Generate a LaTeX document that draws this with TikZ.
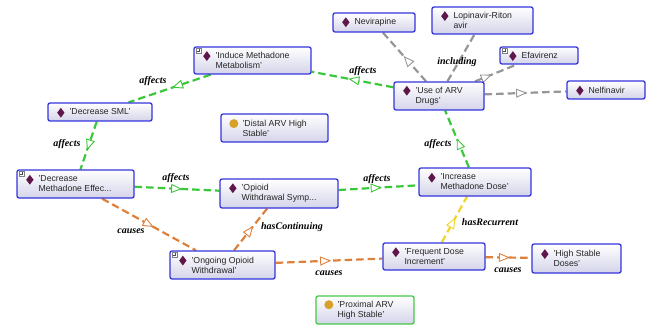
\documentclass[tikz,border=0pt]{standalone}
\usepackage{fontspec}
\setmainfont{Liberation Serif}
\setsansfont{Liberation Sans}
\usetikzlibrary{arrows.meta,decorations.markings,fit,calc,backgrounds,shapes.geometric}

\definecolor{boxblue}{RGB}{52,52,222}
\definecolor{boxfill}{RGB}{212,212,234}
\definecolor{boxgreen}{RGB}{70,200,70}
\definecolor{relgreen}{RGB}{58,200,58}
\definecolor{relgrey}{RGB}{150,150,150}
\definecolor{relorange}{RGB}{222,128,58}
\definecolor{relyellow}{RGB}{240,212,40}
\definecolor{diapurple}{RGB}{95,22,75}
\definecolor{dotgold}{RGB}{215,160,40}

\tikzset{
  obox/.style={draw=boxblue, line width=1.3pt, rounded corners=2pt,
    top color=white, bottom color=boxfill, inner sep=0pt},
  otext/.style={font=\sffamily\fontsize{8.7}{10}\selectfont, align=left,
    inner sep=0pt, text=black!85},
  dia/.style={diamond, fill=diapurple, minimum width=7.5pt, minimum height=10pt, inner sep=0pt},
  dot/.style={circle, fill=dotgold, minimum size=9pt, inner sep=0pt},
  rel/.style={line width=2.2pt, dash pattern=on 7.5pt off 4pt},
  tri/.style={postaction={decorate, decoration={markings,
    mark=at position #1 with {\arrow{Triangle[fill=white, length=11pt, width=9pt, line width=0.9pt]}}}}},
  lab/.style={font=\rmfamily\bfseries\itshape\fontsize{10}{12}\selectfont, inner sep=1pt},
}

% \entity{name}{x1}{y1}{x2}{y2}{icon style}{box options}{text}
\newcommand\entity[8]{%
  \node[obox,#7,fit={(#2,#3) (#4,#5)}] (#1) {};
  \node[otext,anchor=west] (#1-t) at ($(#1.west)+(22,0)$) {#8};
  \node[#6] (#1-i) at ($(#1-t.north west)+(-8.5,4)$) {};
}
% small expand marker in the upper left corner of a box
\newcommand\plusicon[1]{%
  \draw[gray, line width=0.4pt, fill=white] ($(#1.north west)+(3,2)$) rectangle +(5,5);
  \draw[black!70, line width=0.5pt] ($(#1.north west)+(4,4.5)$) -- +(3,0)
        ($(#1.north west)+(5.5,3)$) -- +(0,3);
}

\begin{document}
\begin{tikzpicture}[x=1pt,y=-1pt]
\useasboundingbox (0,0) rectangle (653,326);

\entity{nev}{333}{13}{415}{32}{dia}{}{Nevirapine}
\entity{lop}{432}{7}{533}{34}{dia}{}{Lopinavir-Riton\\avir}
\entity{efa}{500}{47}{578}{64}{dia}{}{Efavirenz}
\entity{use}{394}{82}{484}{110}{dia}{}{'Use of ARV\\Drugs'}
\entity{nel}{567}{81}{645}{99}{dia}{}{Nelfinavir}
\entity{ind}{194}{47}{311}{74}{dia}{}{'Induce Methadone\\Metabolism'}
\entity{dsml}{48}{103}{152}{121}{dia}{}{'Decrease SML'}
\entity{distal}{221}{114}{328}{142}{dot}{}{'Distal ARV High\\Stable'}
\entity{dme}{17}{170}{134}{198}{dia}{}{'Decrease\\Methadone Effec...}
\entity{ows}{220}{179}{338}{208}{dia}{}{'Opioid\\Withdrawal Symp...}
\entity{imd}{419}{168}{531}{196}{dia}{}{'Increase\\Methadone Dose'}
\entity{oow}{170}{251}{275}{279}{dia}{}{'Ongoing Opioid\\Withdrawal'}
\entity{fdi}{383}{243}{485}{270}{dia}{}{'Frequent Dose\\Increment'}
\entity{hsd}{532}{244}{621}{273}{dia}{}{'High Stable\\Doses'}
\entity{prox}{316}{296}{414}{324}{dot}{draw=boxgreen}{'Proximal ARV\\High Stable'}

\plusicon{efa}
\plusicon{ind}
\plusicon{dme}
\plusicon{oow}

\begin{scope}[on background layer]
  \draw[rel, relgreen, tri=0.47] (ind) -- (dsml);
  \draw[rel, relgreen, tri=0.6] (dsml) -- (dme);
  \draw[rel, relgreen, tri=0.55] (use) -- (ind);
  \draw[rel, relgreen, tri=0.51] (imd) -- (use);
  \draw[rel, relgrey, tri=0.52] (use) -- (nev);
  \draw[rel, relgrey] (use) -- (lop);
  \draw[rel, relgrey, tri=0.4] (use) -- (efa);
  \draw[rel, relgrey, tri=0.52] (use) -- (nel);
  \draw[rel, relgreen, tri=0.56] (dme) -- (ows);
  \draw[rel, relgreen, tri=0.54] (ows) -- (imd);
  \draw[rel, relorange, tri=0.55] (dme) -- (oow);
  \draw[rel, relorange, tri=0.58] (oow) -- (ows);
  \draw[rel, relorange, tri=0.52] (oow) -- (fdi);
  \draw[rel, relyellow, tri=0.54] (fdi) -- (imd);
  \draw[rel, relorange, tri=0.53] (fdi) -- (hsd);
\end{scope}

\node[lab] (l-ind) at (153,81) {affects};
\node[lab] (l-dsml) at (67,144) {affects};
\node[lab] (l-use) at (363,71) {affects};
\node[lab] (l-imd) at (438,144) {affects};
\node[lab] (l-dme) at (176,178) {affects};
\node[lab] (l-ows) at (377,179) {affects};
\node[lab] (l-lop) at (457,62) {including};
\node[lab] (l-cau1) at (131,231) {causes};
\node[lab] (l-cont) at (292,227) {hasContinuing};
\node[lab] (l-cau2) at (329,273) {causes};
\node[lab] (l-rec) at (490,222) {hasRecurrent};
\node[lab] (l-cau3) at (508,270) {causes};
\end{tikzpicture}
\end{document}
